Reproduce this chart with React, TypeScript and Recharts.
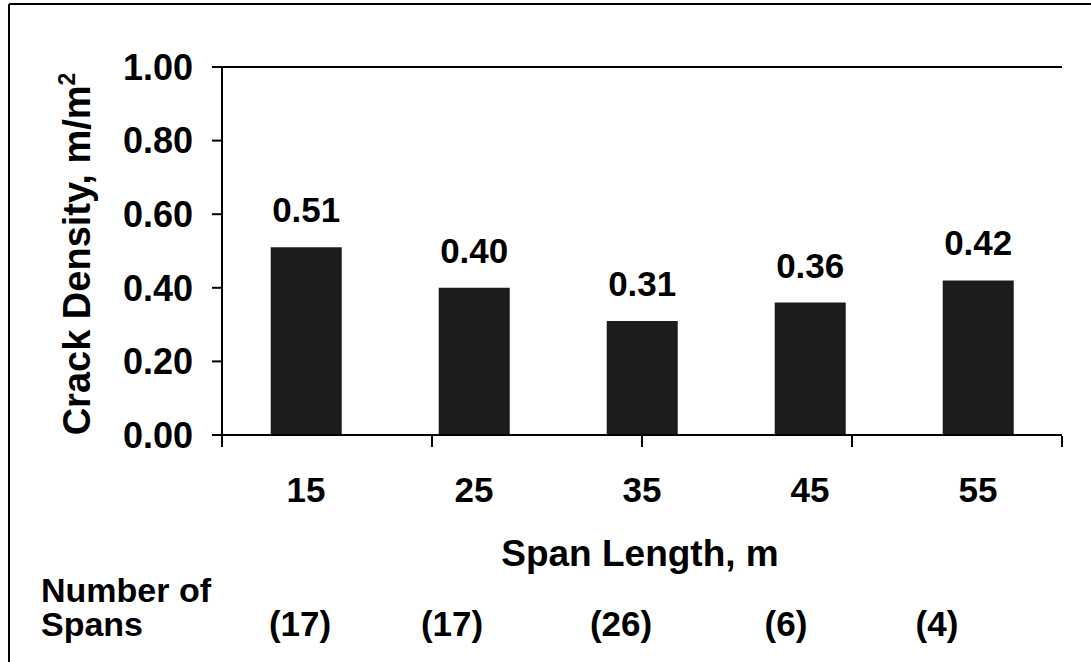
import React from 'react';
import { BarChart, Bar, XAxis, YAxis, LabelList, ReferenceLine } from 'recharts';

const spanLengths = ['15', '25', '35', '45', '55'];
const crackDensity = [0.51, 0.40, 0.31, 0.36, 0.42];
const spanCounts = [17, 17, 26, 6, 4];
const yTicks = [0, 0.2, 0.4, 0.6, 0.8, 1.0];
const boundaryTicks = [0, 1, 2, 3, 4, 5];

const data = spanLengths.map((s, i) => ({ span: s, density: crackDensity[i] }));

// layout constants (text placement of the "Number of Spans" row)
const countLabelX = [300, 452, 621, 786, 937];

const FONT = '"Liberation Sans", Arial, Helvetica, sans-serif';
const W = 1091;
const H = 662;

export default function App() {
  return (
    <div
      style={{
        position: 'absolute',
        left: 0,
        top: 0,
        width: W,
        height: H,
        overflow: 'hidden',
        background: '#fff',
        fontFamily: FONT,
      }}
    >
      <div style={{ position: 'absolute', left: 0, top: 0 }}>
        <BarChart
          width={W}
          height={H}
          data={data}
          margin={{ top: 67, right: 29, bottom: 225, left: 0 }}
          barCategoryGap="29%"
        >
          <XAxis
            dataKey="span"
            height={1}
            axisLine={{ stroke: '#000', strokeWidth: 2 }}
            tickLine={false}
            tickSize={0}
            tickMargin={42}
            tick={{ fill: '#000', fontSize: 35, fontWeight: 700, fontFamily: FONT }}
          />
          <XAxis
            xAxisId="b"
            type="number"
            domain={[0, 5]}
            ticks={boundaryTicks}
            height={1}
            axisLine={false}
            tickLine={{ stroke: '#000', strokeWidth: 2 }}
            tickSize={11}
            tickFormatter={() => ''}
          />
          <YAxis
            width={222}
            domain={[0, 1]}
            ticks={yTicks}
            tickFormatter={(v: number) => v.toFixed(2)}
            axisLine={{ stroke: '#000', strokeWidth: 2 }}
            tickLine={{ stroke: '#000', strokeWidth: 2 }}
            tickSize={10}
            tickMargin={19}
            tick={{ fill: '#000', fontSize: 36, fontWeight: 700, fontFamily: FONT }}
          />
          <ReferenceLine y={1} stroke="#000" strokeWidth={2} ifOverflow="visible" />
          <ReferenceLine x={5} xAxisId="b" stroke="#000" strokeWidth={2} ifOverflow="visible" />
          <Bar dataKey="density" fill="#1c1c1c" isAnimationActive={false}>
            <LabelList
              dataKey="density"
              position="top"
              offset={25}
              formatter={(v: number) => Number(v).toFixed(2)}
              style={{ fill: '#000', fontSize: 35, fontWeight: 700, fontFamily: FONT }}
            />
          </Bar>
        </BarChart>
      </div>
      <svg
        width={W}
        height={H}
        style={{ position: 'absolute', left: 0, top: 0, pointerEvents: 'none' }}
        fontFamily={FONT}
        fontWeight={700}
        fill="#000"
      >
        <line x1={9} y1={4} x2={W} y2={4} stroke="#000" strokeWidth={2} />
        <line x1={9} y1={4} x2={9} y2={H} stroke="#000" strokeWidth={2} />
        <text
          x={90}
          y={254}
          transform="rotate(-90 90 254)"
          textAnchor="middle"
          fontSize={38}
        >
          Crack Density, m/m<tspan dy={-15} fontSize={23}>2</tspan>
        </text>
        <text x={640} y={566} textAnchor="middle" fontSize={37}>
          Span Length, m
        </text>
        <text x={41} y={602} fontSize={34}>Number of</text>
        <text x={41} y={636} fontSize={34}>Spans</text>
        {spanCounts.map((c, i) => (
          <text key={i} x={countLabelX[i]} y={636} textAnchor="middle" fontSize={35}>
            ({c})
          </text>
        ))}
      </svg>
    </div>
  );
}
